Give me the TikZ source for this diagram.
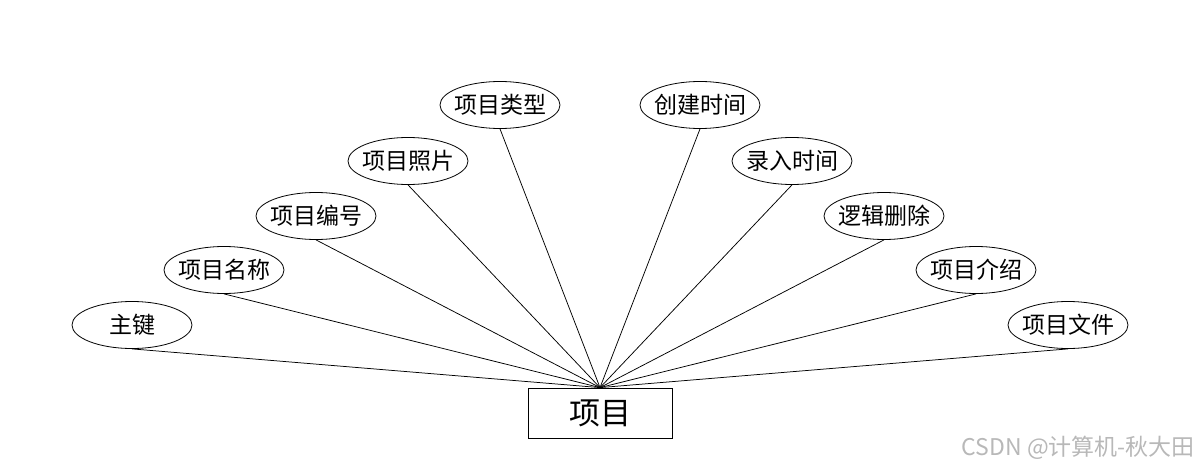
\documentclass[tikz,border=0pt]{standalone}
\usepackage{fontspec}
\setmainfont{Noto Sans CJK SC}
\newfontfamily\cjk{Noto Sans CJK SC}
\usetikzlibrary{shapes.geometric}
\newcommand{\zw}[1]{\makebox[0pt][c]{#1}}
\begin{document}
\begin{tikzpicture}[x=1pt,y=-1pt,
  attr/.style={draw,ellipse,minimum width=120pt,minimum height=47pt,inner sep=0pt,font=\cjk\fontsize{23}{23}\selectfont,line width=0.8pt},
  ent/.style={draw,rectangle,minimum width=144pt,minimum height=50pt,inner sep=0pt,font=\cjk\fontsize{31}{31}\selectfont,line width=0.8pt},
  link/.style={line width=0.75pt}]
\useasboundingbox (0,0) rectangle (1200,468);
\node[ent] (e) at (600,413) {项目};
\node[attr] (a1) at (132,325) {\zw{主键}};
\node[attr] (a2) at (224,270) {\zw{项目名称}};
\node[attr] (a3) at (316,216) {\zw{项目编号}};
\node[attr] (a4) at (408,161) {\zw{项目照片}};
\node[attr] (a5) at (500,105) {\zw{项目类型}};
\node[attr] (a6) at (700,105) {\zw{创建时间}};
\node[attr] (a7) at (792,161) {\zw{录入时间}};
\node[attr] (a8) at (884,216) {\zw{逻辑删除}};
\node[attr] (a9) at (976,270) {\zw{项目介绍}};
\node[attr] (a10) at (1068,325) {\zw{项目文件}};
\foreach \i in {1,...,10} \draw[link] (a\i.south) -- (e.north);
\node[font=\cjk\fontsize{23}{23}\selectfont,text=black!28,anchor=east,inner sep=0pt] (wm) at (1195,448) {CSDN @计算机-秋大田};
\end{tikzpicture}
\end{document}
